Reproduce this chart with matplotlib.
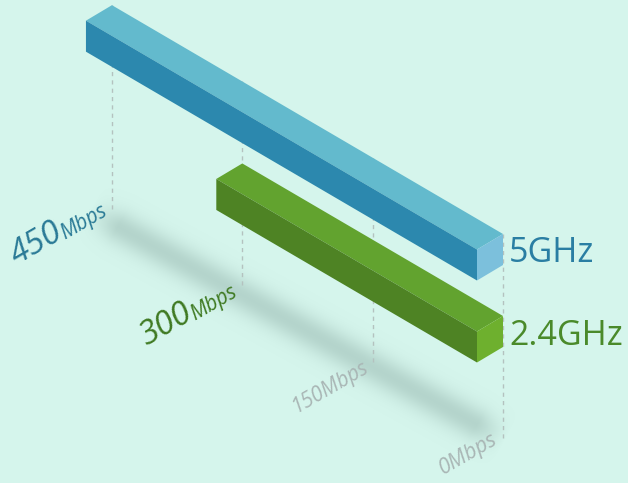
import matplotlib
matplotlib.use('Agg')
import matplotlib.pyplot as plt
import numpy as np

# values
tick_values = [450, 300, 150, 0]
series_names = ['5GHz', '2.4GHz']
series_speed = [450, 300]
series_elev = [204, 122]  # height of bar above the floor, px

top_colors = ['#63bacd', '#62a32f']
side_colors = ['#2c88ae', '#4e8324']
end_colors = ['#7cc0dc', '#6eb02e']
name_colors = ['#2a7ea3', '#4a8a2a']

BG = '#d5f5ec'
X0, Y0 = 503, 438        # floor position of 0 Mbps
DX, DY = 0.869, 0.5085   # px per Mbps along the floor
WX, WY = -26, 15.5       # bar depth vector
BAR_H = 31


def project(v, elev=0):
    return X0 - DX * v, Y0 - DY * v - elev


plt.rcParams['font.family'] = ['Open Sans', 'DejaVu Sans']
fig = plt.figure(figsize=(6.28, 4.83), dpi=100, facecolor=BG)
ax = fig.add_axes([0, 0, 1, 1])
ax.set_xlim(0, 628)
ax.set_ylim(483, 0)
ax.axis('off')

# blurred shadow on the floor
sx0, sy0 = project(450)
sx1, sy1 = project(0)
sx0, sy0 = sx0 - 22, sy0 + 2
sx1, sy1 = sx1 + 2, sy1 + 2
gx, gy = np.meshgrid(np.arange(628) + 0.5, np.arange(483) + 0.5)
ux, uy = sx1 - sx0, sy1 - sy0
length = np.hypot(ux, uy)
ux, uy = ux / length, uy / length
along = (gx - sx0) * ux + (gy - sy0) * uy
across = -(gx - sx0) * uy + (gy - sy0) * ux
fade = np.clip(along / 32, 0, 1) * np.clip((length - along) / 32, 0, 1)
shadow = np.zeros((483, 628, 4))
shadow[..., :3] = matplotlib.colors.to_rgb('#9dbdb5')
shadow[..., 3] = 0.58 * fade * np.exp(-across ** 2 / (2 * 11.5 ** 2))
ax.imshow(shadow, extent=(0, 628, 483, 0), zorder=1, aspect='auto')

# dashed guides, the bars cover what is behind them
for v in tick_values:
    x, y = project(v)
    ax.plot([x, x], [y, y - series_elev[0]], color='#b4c2bf', lw=1,
            dashes=(3, 3), zorder=2)

for i, (speed, elev) in enumerate(zip(series_speed, series_elev)):
    bx, by = project(speed, elev)
    ex, ey = project(0, elev)
    # top face
    ax.fill([bx, ex, ex + WX, bx + WX], [by, ey, ey + WY, by + WY],
            color=top_colors[i], lw=0, zorder=3)
    # long side
    ax.fill([bx + WX, ex + WX, ex + WX, bx + WX],
            [by + WY, ey + WY, ey + WY + BAR_H, by + WY + BAR_H],
            color=side_colors[i], lw=0, zorder=3)
    # end cap
    ax.fill([ex, ex, ex + WX, ex + WX],
            [ey, ey + BAR_H, ey + WY + BAR_H, ey + WY],
            color=end_colors[i], lw=0, zorder=3)

ax.text(509, 262, series_names[0], color=name_colors[0], fontsize=24.5, va='baseline')
ax.text(509, 345, series_names[1], color=name_colors[1], fontsize=24.5, va='baseline')

# rotated axis labels: number then unit
rot = 30
kw = dict(rotation=rot, rotation_mode='anchor', style='italic', va='baseline')
ax.text(17, 265, '450', color='#2a7a96', fontsize=24, **kw)
ax.text(65, 240, 'Mbps', color='#2a7a96', fontsize=15, **kw)
ax.text(146, 346, '300', color='#3f7a22', fontsize=24, **kw)
ax.text(195, 321, 'Mbps', color='#3f7a22', fontsize=15, **kw)
ax.text(296, 413, '150Mbps', color='#a9b6b5', fontsize=15, **kw)
ax.text(443, 475, '0Mbps', color='#a9b6b5', fontsize=15.5, **kw)

fig.savefig('out.png', dpi=100, facecolor=BG)
